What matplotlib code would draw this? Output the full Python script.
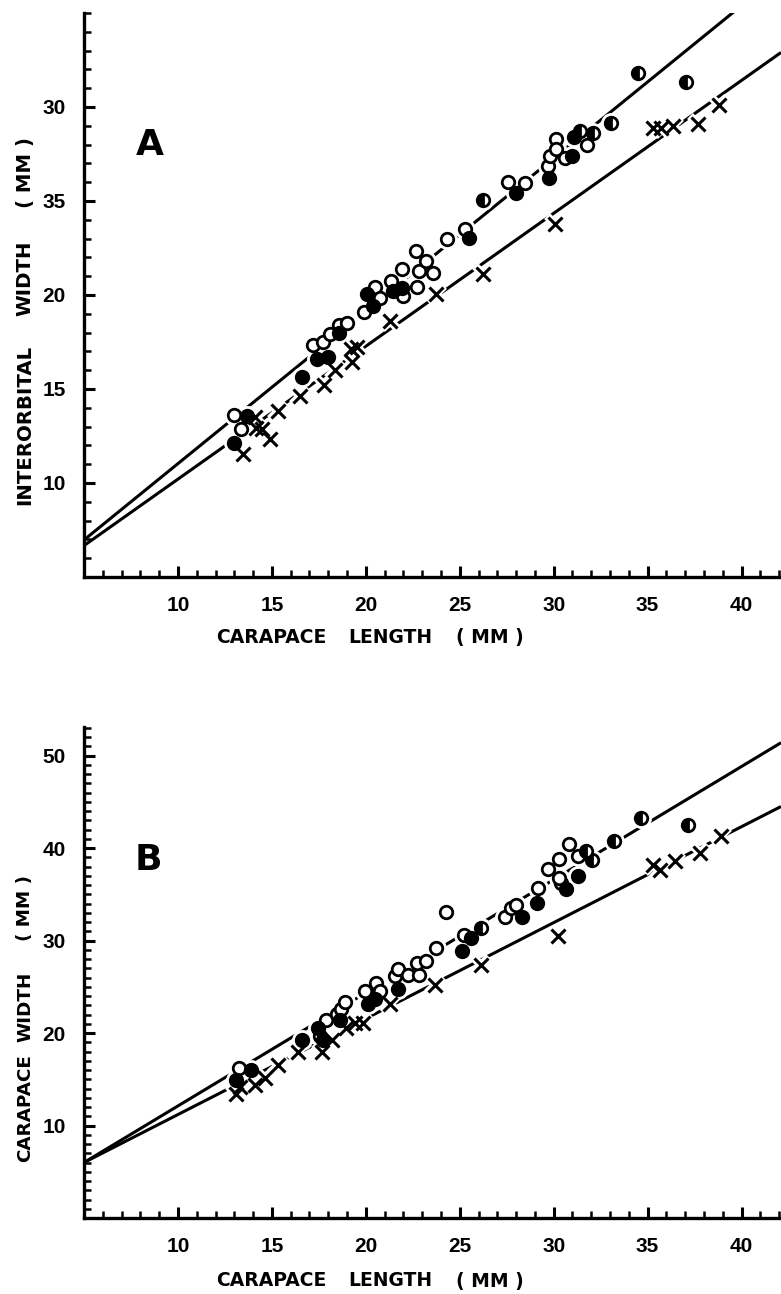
import matplotlib
matplotlib.use("Agg")
import matplotlib.pyplot as plt
from matplotlib.ticker import MultipleLocator, FixedLocator

plt.rcParams['font.family'] = ['DejaVu Sans']

# ---- panel A : interorbital width vs carapace length ----
a_open_x = [13.0, 13.35, 17.2, 17.7, 18.1, 18.55, 19.0, 19.9, 20.5, 20.75, 21.35, 21.9, 22.0,
            22.65, 22.75, 22.85, 23.2, 23.6, 24.3, 25.3, 27.55, 28.45, 29.7, 29.8, 30.15,
            30.15, 30.6, 31.75]
a_open_y = [13.6, 12.85, 17.35, 17.5, 17.9, 18.4, 18.5, 19.1, 20.4, 19.85, 20.75, 21.4, 19.95,
            22.35, 20.45, 21.25, 21.8, 21.15, 23.0, 23.5, 26.0, 25.95, 26.85, 27.4, 28.3,
            27.75, 27.3, 28.0]
a_fill_x = [13.65, 13.0, 16.6, 17.4, 18.0, 18.55, 20.05, 20.4, 21.45, 21.9, 25.5, 28.0, 29.75, 31.0, 31.1]
a_fill_y = [13.55, 12.15, 15.65, 16.6, 16.7, 18.0, 20.05, 19.4, 20.2, 20.35, 23.05, 25.45, 26.2, 27.4, 28.4]
a_half_x = [26.25, 31.4, 32.1, 33.05, 34.5, 37.05]
a_half_y = [25.05, 28.7, 28.6, 29.15, 31.8, 31.35]
a_cross_x = [13.45, 14.1, 14.15, 14.5, 14.9, 15.35, 16.5, 17.8, 18.35, 19.25, 19.2, 19.55, 21.3,
             23.75, 26.25, 30.05, 35.3, 35.7, 36.35, 37.7, 38.8]
a_cross_y = [11.55, 13.5, 12.9, 12.85, 12.35, 13.85, 14.65, 15.2, 16.0, 16.45, 17.15, 17.25, 18.6,
             20.05, 21.1, 23.8, 28.9, 28.9, 29.0, 29.1, 30.1]
a_line_upper = [(5.0, 6.97), (42.1, 37.1)]
a_line_lower = [(5.0, 6.67), (42.1, 32.9)]

# ---- panel B : carapace width vs carapace length ----
b_open_x = [13.25, 17.55, 17.9, 18.45, 18.7, 18.9, 19.95, 20.55, 20.75, 21.55, 21.7, 22.25, 22.85,
            22.7, 23.2, 23.75, 24.25, 25.25, 27.4, 27.75, 28.0, 29.15, 29.7, 30.3, 30.4, 30.3,
            30.8, 31.3]
b_open_y = [16.2, 19.65, 21.4, 22.1, 22.55, 23.35, 24.5, 25.4, 24.5, 26.15, 26.9, 26.3, 26.3,
            27.6, 27.8, 29.2, 33.1, 30.65, 32.6, 33.55, 33.9, 35.7, 37.7, 38.8, 36.25, 36.8,
            40.4, 39.1]
b_fill_x = [13.9, 13.1, 16.6, 17.45, 17.7, 18.6, 20.1, 20.5, 21.7, 25.1, 25.6, 28.3, 29.1, 30.65, 31.3]
b_fill_y = [16.05, 14.95, 19.3, 20.5, 19.2, 21.4, 23.1, 23.7, 24.8, 28.9, 30.3, 32.55, 34.1, 35.6, 37.0]
b_half_x = [26.15, 31.7, 32.05, 33.2, 34.65, 37.15]
b_half_y = [31.35, 39.65, 38.75, 40.75, 43.25, 42.55]
b_cross_x = [13.1, 13.3, 14.1, 14.65, 15.35, 16.4, 17.65, 18.2, 18.95, 19.4, 19.85, 21.3, 23.7,
             26.15, 30.25, 35.3, 35.65, 36.45, 37.8, 38.9]
b_cross_y = [13.4, 14.2, 14.4, 15.1, 16.6, 18.0, 18.0, 19.3, 20.55, 21.1, 21.1, 23.1, 25.25,
             27.35, 30.55, 38.2, 37.6, 38.6, 39.5, 41.3]
b_line_upper = [(5.0, 6.0), (42.1, 51.4)]
b_line_lower = [(5.0, 6.0), (42.1, 44.5)]

xticks = [10, 15, 20, 25, 30, 35, 40]
a_yticks = [10, 15, 20, 25, 30]
a_yticklabels = ['10', '15', '20', '35', '30']
b_yticks = [10, 20, 30, 40, 50]

W, H = 781, 1294
fig = plt.figure(figsize=(W / 100, H / 100), dpi=100)
axA = fig.add_axes([84 / W, 1 - 577 / H, (W - 84) / W, (577 - 13) / H])
axB = fig.add_axes([84 / W, 1 - 1218 / H, (W - 84) / W, (1218 - 727) / H])

MS = 9.0


def draw_points(ax, ox, oy, fx, fy, hx, hy, cx, cy):
    # white halos break the regression lines around every point
    for xs, ys in [(ox, oy), (fx, fy), (hx, hy)]:
        ax.plot(xs, ys, 'o', ms=MS + 5, mfc='white', mec='white', zorder=3)
    ax.plot(cx, cy, 'x', ms=MS + 3, mec='white', mew=6, zorder=3)
    ax.plot(ox, oy, 'o', ms=MS, mfc='white', mec='black', mew=2.0, zorder=4)
    ax.plot(fx, fy, 'o', ms=MS, mfc='black', mec='black', mew=2.0, zorder=5)
    ax.plot(hx, hy, 'o', ms=MS, fillstyle='left', mfc='black', mfcalt='white',
            mec='black', mew=2.0, zorder=5)
    ax.plot(cx, cy, 'x', ms=MS + 1, mec='black', mew=2.2, zorder=6)


def style_axis(ax, ylim, ymajor, ylabels):
    ax.set_xlim(5, 42.1)
    ax.set_ylim(*ylim)
    for s in ['top', 'right']:
        ax.spines[s].set_visible(False)
    for s in ['left', 'bottom']:
        ax.spines[s].set_linewidth(2.4)
    ax.xaxis.set_major_locator(FixedLocator(xticks))
    ax.xaxis.set_minor_locator(MultipleLocator(1))
    ax.yaxis.set_major_locator(FixedLocator(ymajor))
    ax.yaxis.set_minor_locator(MultipleLocator(1))
    ax.set_xticklabels([str(t) for t in xticks])
    ax.set_yticklabels(ylabels)
    ax.tick_params(which='major', direction='in', length=8, width=2.2, labelsize=15)
    ax.tick_params(which='minor', direction='in', length=5, width=1.8)
    ax.tick_params(axis='x', which='major', pad=14)
    ax.tick_params(axis='y', which='major', pad=13)
    for lab in ax.get_xticklabels() + ax.get_yticklabels():
        lab.set_fontweight('bold')
        lab.set_family(['Liberation Sans', 'DejaVu Sans'])
    ax.patch.set_visible(False)


for ax, up, lo in [(axA, a_line_upper, a_line_lower), (axB, b_line_upper, b_line_lower)]:
    ax.plot([p[0] for p in up], [p[1] for p in up], color='black', lw=2.2, zorder=2,
            solid_capstyle='butt')
    ax.plot([p[0] for p in lo], [p[1] for p in lo], color='black', lw=2.2, zorder=2,
            solid_capstyle='butt')

draw_points(axA, a_open_x, a_open_y, a_fill_x, a_fill_y, a_half_x, a_half_y, a_cross_x, a_cross_y)
draw_points(axB, b_open_x, b_open_y, b_fill_x, b_fill_y, b_half_x, b_half_y, b_cross_x, b_cross_y)

style_axis(axA, (5, 35), a_yticks, a_yticklabels)
style_axis(axB, (0, 53.1), b_yticks, [str(t) for t in b_yticks])

axA.text(0.095, 0.766, 'A', transform=axA.transAxes, fontsize=26, fontweight='bold',
         ha='center', va='center')
axB.text(0.092, 0.729, 'B', transform=axB.transAxes, fontsize=26, fontweight='bold',
         ha='center', va='center')

# axis titles, word by word (the original is loosely letter-spaced)
lab_font = dict(fontweight='bold', color='black', ha='center', va='center')
for word, yc in [('INTERORBITAL', 425), ('WIDTH', 278), ('( MM )', 172)]:
    fig.text(25 / W, 1 - yc / H, word, rotation=90, fontsize=14.2, **lab_font)
for word, yc in [('CARAPACE', 1108), ('WIDTH', 1007), ('( MM )', 908)]:
    fig.text(25 / W, 1 - yc / H, word, rotation=90, fontsize=13.2, **lab_font)
for yc in [637, 1281]:
    for word, xc in [('CARAPACE', 271), ('LENGTH', 390), ('( MM )', 490)]:
        fig.text(xc / W, 1 - yc / H, word, fontsize=13.5, **lab_font)

fig.savefig('out.png', dpi=100, facecolor='white')
